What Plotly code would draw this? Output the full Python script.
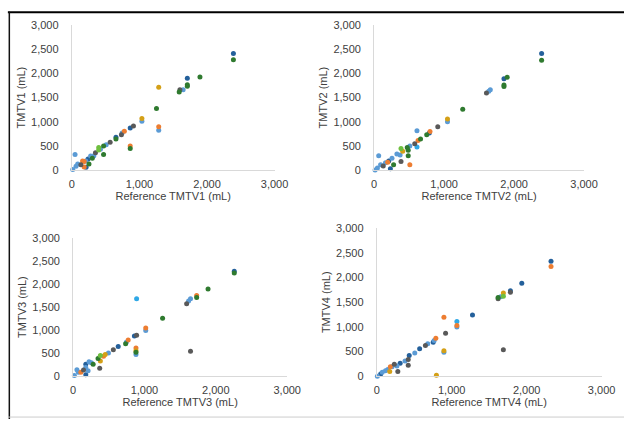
import plotly.graph_objects as go

# ---------------- data ----------------
p1_ref = [2391, 2391, 1709, 1896, 1709, 1709, 1599, 1647, 1589, 1286, 1253, 1286, 1286, 1037, 1037, 912, 864, 864, 864,
          777, 744, 734, 653, 653, 567, 509, 470, 470, 398, 398, 423, 350, 278, 303, 240, 206, 159, 254, 183, 211,
          48, 87, 62, 14, 134, 326, 183]
p1_tmtv = [2413, 2280, 1900, 1927, 1767, 1733, 1660, 1660, 1613, 1713, 1273, 900, 827, 1067, 1013, 913, 873, 500, 447,
           807, 767, 733, 680, 647, 580, 527, 500, 327, 467, 420, 433, 360, 293, 247, 233, 193, 193, 127, 67, 60,
           327, 127, 80, 13, 113, 300, 180]
p1_grp = ["navy", "dkgreen", "navy", "dkgreen", "dkgreen", "dkgreen", "gray", "blue", "dkgreen", "gold", "dkgreen",
          "orange", "blue", "gold", "blue", "gray", "navy", "orange", "dkgreen",
          "orange", "blue", "gray", "navy", "dkgreen", "gray", "blue", "dkgreen", "dkgreen", "green", "green", "blue",
          "gray", "blue", "dkgreen", "navy", "blue", "orange", "dkgreen", "orange", "navy",
          "blue", "blue", "blue", "blue", "gray", "blue", "orange"]

p2_ref = [2393, 2393, 1855, 1901, 1855, 1855, 1605, 1660, 1638, 1266, 1048, 1048, 909, 788, 798, 751, 612, 612, 663,
          627, 580, 510, 473, 487, 487, 510, 384, 408, 384, 278, 232, 325, 255, 209, 162, 65, 92, 47, 14, 194, 130, 371]
p2_tmtv = [2413, 2273, 1887, 1920, 1760, 1727, 1593, 1660, 1633, 1260, 1060, 1000, 900, 767, 800, 733, 813, 480, 647,
           613, 547, 500, 467, 413, 300, 113, 447, 393, 180, 113, 33, 333, 247, 193, 153, 300, 113, 47, 7, 167, 87, 313]
p2_grp = ["navy", "dkgreen", "navy", "dkgreen", "dkgreen", "dkgreen", "gray", "blue", "blue", "dkgreen", "gold",
          "blue", "gray", "navy", "orange", "dkgreen", "blue", "sky", "dkgreen",
          "orange", "gray", "blue", "dkgreen", "dkgreen", "dkgreen", "orange", "green", "gold", "gray", "dkgreen",
          "navy", "blue", "blue", "navy", "blue", "blue", "blue", "blue", "blue", "orange", "gray", "blue"]

p3_ref = [2258, 2258, 1891, 1731, 1731, 1645, 1618, 1591, 890, 1254, 1018, 1018, 890, 859, 881, 881, 881, 881, 1645,
          772, 746, 736, 632, 564, 495, 450, 382, 427, 350, 382, 373, 281, 255, 178, 178, 178, 210, 54, 73, 18, 109,
          146, 223]
p3_tmtv = [2277, 2242, 1890, 1750, 1707, 1680, 1630, 1574, 1680, 1258, 1047, 991, 892, 871, 611, 555, 520, 471, 541,
           787, 738, 703, 646, 576, 506, 471, 450, 436, 386, 330, 176, 260, 295, 260, 190, 35, 119, 141, 84, 14, 84,
           133, 316]
p3_grp = ["navy", "dkgreen", "dkgreen", "orange", "dkgreen", "blue", "blue", "gray", "sky", "dkgreen", "orange",
          "blue", "gray", "navy", "orange", "gold", "dkgreen", "blue", "gray",
          "orange", "blue", "dkgreen", "navy", "gray", "blue", "gold", "green", "orange", "dkgreen", "gold", "gray",
          "dkgreen", "blue", "navy", "blue", "navy", "blue", "blue", "blue", "blue", "orange", "gray", "blue"]

p4_ref = [2325, 2325, 1935, 1783, 1783, 1689, 1689, 1654, 1619, 1619, 1277, 896, 1069, 1069, 1069, 918, 896, 896, 796,
          1689, 788, 766, 753, 680, 649, 572, 507, 433, 420, 420, 377, 312, 281, 181, 204, 147, 173, 73, 52, 8, 116,
          234, 269]
p4_tmtv = [2331, 2226, 1884, 1733, 1701, 1687, 1622, 1609, 1569, 1596, 1241, 1195, 1110, 1031, 998, 873, 519, 486, 20,
           538, 768, 722, 689, 657, 624, 558, 473, 420, 341, 223, 309, 263, 98, 190, 190, 138, 98, 79, 46, 0, 112,
           243, 210]
p4_grp = ["navy", "orange", "navy", "navy", "gray", "gold", "green", "blue", "gray", "dkgreen", "navy", "orange",
          "sky", "orange", "blue", "gray", "gold", "blue", "gold",
          "gray", "orange", "blue", "navy", "blue", "gray", "navy", "blue", "navy", "gray", "gray", "blue", "navy",
          "gray", "orange", "blue", "blue", "gold", "blue", "navy", "blue", "blue", "gray", "blue"]

x_titles = ["Reference TMTV1 (mL)", "Reference TMTV2 (mL)", "Reference TMTV3 (mL)", "Reference TMTV4 (mL)"]
y_titles = ["TMTV1 (mL)", "TMTV2 (mL)", "TMTV3 (mL)", "TMTV4 (mL)"]
x_ticks = [0, 1000, 2000, 3000]
y_ticks = [0, 500, 1000, 1500, 2000, 2500, 3000]

# ---------------- styling ----------------
colors = {"navy": "#24609b", "blue": "#5b9bd5", "sky": "#2fa8e6", "orange": "#ed7d31", "gray": "#595959",
          "gold": "#d4a017", "dkgreen": "#2f7a2f", "green": "#6fbf3f"}
W, H = 638, 425
# pixel boxes of the four plot areas: (x0, x1, y_top, y_bottom)
boxes = [(70.7, 279.0, 19.5, 169.0), (381.3, 597.0, 19.5, 169.0),
         (72.0, 292.0, 238.7, 381.0), (384.0, 615.0, 228.7, 381.0)]
panels = [(p1_ref, p1_tmtv, p1_grp), (p2_ref, p2_tmtv, p2_grp),
          (p3_ref, p3_tmtv, p3_grp), (p4_ref, p4_tmtv, p4_grp)]

fig = go.Figure()
font_family = "Liberation Sans, Arial, sans-serif"
tick_font = dict(family=font_family, size=11, color="#404040")

for i, ((xs, ys, gs), (bx0, bx1, byt, byb)) in enumerate(zip(panels, boxes)):
    n = i + 1
    xa = "x" if n == 1 else f"x{n}"
    ya = "y" if n == 1 else f"y{n}"
    for g in colors:
        px = [x for x, gg in zip(xs, gs) if gg == g]
        py = [y for y, gg in zip(ys, gs) if gg == g]
        if not px:
            continue
        fig.add_trace(go.Scatter(x=px, y=py, mode="markers", xaxis=xa, yaxis=ya,
                                 marker=dict(color=colors[g], size=5, line=dict(width=0)),
                                 cliponaxis=False, showlegend=False, hoverinfo="x+y"))
    xkey = "xaxis" if n == 1 else f"xaxis{n}"
    ykey = "yaxis" if n == 1 else f"yaxis{n}"
    fig.update_layout(**{
        xkey: dict(domain=[bx0 / W, bx1 / W], anchor=ya, range=[0, 3000], tickvals=x_ticks,
                   tickformat=",d", showgrid=False, zeroline=False, showline=True,
                   linecolor="#d9d9d9", linewidth=1, ticks="", ticklabelstandoff=4,
                   tickfont=tick_font, fixedrange=True,
                   title=dict(text=x_titles[i], font=dict(family=font_family, size=11, color="#404040"),
                              standoff=2)),
        ykey: dict(domain=[1 - byb / H, 1 - byt / H], anchor=xa, range=[0, 3000], tickvals=y_ticks,
                   tickformat=",d", showgrid=False, zeroline=False, showline=True,
                   linecolor="#d9d9d9", linewidth=1, ticks="", ticklabelstandoff=10,
                   tickfont=tick_font, fixedrange=True,
                   title=dict(text=y_titles[i], font=dict(family=font_family, size=11, color="#404040"),
                              standoff=3)),
    })

# frame lines
fig.add_shape(type="line", xref="paper", yref="paper", x0=5 / W, x1=1, y0=1 - 6.5 / H, y1=1 - 6.5 / H,
              line=dict(color="black", width=2))
fig.add_shape(type="line", xref="paper", yref="paper", x0=6.5 / W, x1=6.5 / W, y0=0, y1=1 - 6 / H,
              line=dict(color="#111111", width=1.5))
fig.add_shape(type="line", xref="paper", yref="paper", x0=5 / W, x1=1, y0=1 - 423 / H, y1=1 - 423 / H,
              line=dict(color="#cccccc", width=1))

fig.update_layout(autosize=True, margin=dict(l=0, r=0, t=0, b=0),
                  paper_bgcolor="white", plot_bgcolor="white")
fit_js = (
    "document.documentElement.style.margin='0';document.documentElement.style.height='100%';"
    "document.documentElement.style.overflow='hidden';"
    "document.body.style.margin='0';document.body.style.padding='0';document.body.style.height='100%';"
    "document.body.style.overflow='hidden';"
    "var gd=document.getElementById('{plot_id}');"
    "var p=gd.parentElement; if(p){p.style.width='100vw';p.style.height='100vh';}"
    "gd.style.width='100vw';gd.style.height='100vh';"
    "Plotly.Plots.resize(gd);"
)
fig.write_html("out.html", config={"displayModeBar": False, "responsive": True},
               default_width="100%", default_height="100%", post_script=fit_js)
